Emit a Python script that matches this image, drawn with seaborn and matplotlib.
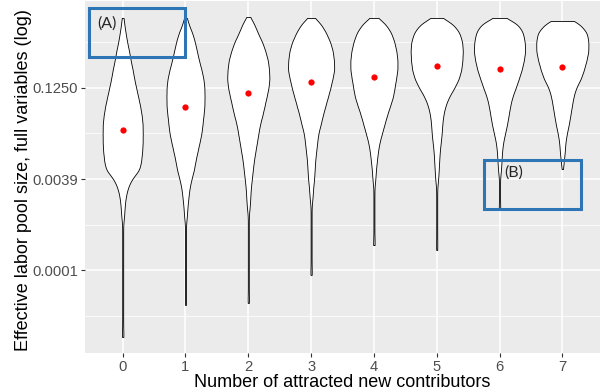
import numpy as np
import pandas as pd
import matplotlib
matplotlib.use("Agg")
import matplotlib.pyplot as plt
from matplotlib.patches import Rectangle
from matplotlib.ticker import FixedLocator, FuncFormatter
import seaborn as sns

categories = ["0", "1", "2", "3", "4", "5", "6", "7"]

# shared bins of log2(effective labor pool size), top to bottom
log2_bins = [0.5, 0.0, -0.5, -1.0, -1.5, -2.0, -2.5, -3.0, -3.5, -4.0, -4.5, -5.0,
             -5.5, -6.0, -6.5, -7.0, -7.5, -8.0, -8.5, -9.0, -9.5, -10.0, -10.5, -11.0,
             -11.5, -12.0, -12.5, -13.0, -13.5, -14.0, -14.5, -15.0, -15.5, -16.0, -16.5]

# how many projects fall in each bin, per number of new contributors
counts_0 = [3, 6, 9, 13, 16, 20, 23, 27, 31, 35, 38, 40, 40, 40, 39, 37, 34, 18, 10, 6, 4, 3,
            1, 1, 1, 1, 1, 1, 1, 1, 1, 1, 1, 1, 1]
counts_1 = [6, 14, 19, 23, 27, 32, 36, 38, 38, 38, 36, 34, 32, 28, 24, 20, 17, 12, 8, 6, 4, 3,
            1, 1, 1, 1, 1, 1, 1, 1, 1, 0, 0, 0, 0]
counts_2 = [12, 19, 28, 34, 39, 41, 42, 40, 36, 32, 28, 23, 20, 17, 14, 11, 9, 7, 5, 4, 3,
            1, 1, 1, 1, 1, 1, 1, 1, 1, 1, 0, 0, 0, 0]
counts_3 = [20, 30, 38, 43, 45, 46, 42, 38, 33, 28, 23, 19, 14, 12, 10, 8, 7, 6, 4, 3,
            1, 1, 1, 1, 1, 1, 1, 1, 0, 0, 0, 0, 0, 0, 0]
counts_4 = [24, 35, 41, 45, 47, 47, 44, 41, 38, 32, 26, 21, 16, 11, 8, 6, 4, 3,
            1, 1, 1, 1, 1, 1, 1, 0, 0, 0, 0, 0, 0, 0, 0, 0, 0]
counts_5 = [34, 46, 51, 52, 51, 49, 44, 35, 24, 17, 13, 11, 10, 8, 6, 5, 4, 3,
            1, 1, 1, 1, 1, 1, 1, 0, 0, 0, 0, 0, 0, 0, 0, 0, 0]
counts_6 = [38, 47, 50, 51, 48, 44, 38, 32, 25, 21, 18, 15, 11, 7, 5, 4, 3,
            1, 1, 1, 1, 0, 0, 0, 0, 0, 0, 0, 0, 0, 0, 0, 0, 0, 0]
counts_7 = [36, 50, 52, 52, 48, 43, 37, 27, 22, 19, 16, 13, 9, 6, 5, 3,
            0, 0, 0, 0, 0, 0, 0, 0, 0, 0, 0, 0, 0, 0, 0, 0, 0, 0, 0]

# extremes and means per group (log2 of pool size)
pool_top_log2 = [0.85, 0.85, 0.90, 0.85, 0.85, 0.85, 0.85, 0.68]
pool_bottom_log2 = [-16.68, -14.92, -14.81, -13.27, -11.63, -11.90, -9.70, -7.45]
pool_mean_log2 = [-5.31, -4.04, -3.27, -2.67, -2.40, -1.79, -1.96, -1.85]

all_counts = [counts_0, counts_1, counts_2, counts_3, counts_4, counts_5, counts_6, counts_7]


def fixed_bw(kde):
    # same kernel width (0.3 log2 units) for every group
    return 0.3 / np.std(kde.dataset)


sns.set_theme(style="darkgrid")
plt.rcParams["font.family"] = ["Liberation Sans", "DejaVu Sans"]

fig, ax = plt.subplots(figsize=(6.1, 3.92), dpi=100)
fig.subplots_adjust(left=85 / 610, right=600 / 610, top=1 - 1 / 392, bottom=1 - 353 / 392)
ax.set_facecolor("#EBEBEB")

# one violin per group, widths scaled by the group's peak count (area-like scaling)
peak = max(max(c) for c in all_counts)
for cat, counts, top, bottom in zip(categories, all_counts, pool_top_log2, pool_bottom_log2):
    vals = np.concatenate([[top], np.repeat(log2_bins, counts), [bottom]])
    grp = pd.DataFrame({"contributors": cat, "log2_pool": vals})
    sns.violinplot(data=grp, x="contributors", y="log2_pool", order=categories,
                   color="white", saturation=1, linecolor="black", linewidth=0.6,
                   inner=None, cut=0, bw_method=fixed_bw, density_norm="width",
                   width=0.83 * max(counts) / peak, gridsize=400, ax=ax)

sns.stripplot(x=categories, y=pool_mean_log2, order=categories,
              jitter=False, color="red", size=4.5, linewidth=0, zorder=4, ax=ax)

# ggplot-like limits: 5% padding on the log range, 0.6 on the discrete axis
lo, hi = min(pool_bottom_log2), max(pool_top_log2)
pad = 0.05 * (hi - lo)
ax.set_ylim(lo - pad, hi + pad)
ax.set_xlim(-0.6, len(categories) - 0.4)

ax.yaxis.set_major_locator(FixedLocator([-13, -8, -3]))
ax.yaxis.set_major_formatter(FuncFormatter(lambda v, _: f"{2.0 ** v:.4f}"))
ax.yaxis.set_minor_locator(FixedLocator([-15.5, -10.5, -5.5, -0.5]))

ax.grid(True, which="major", color="white", linewidth=1.1)
ax.grid(True, which="minor", axis="y", color="white", linewidth=0.55)
ax.xaxis.grid(True, which="major", color="white", linewidth=1.1)
ax.set_axisbelow(True)
for s in ax.spines.values():
    s.set_visible(False)

ax.tick_params(axis="both", which="major", length=3, width=0.8, color="#333333",
               labelcolor="#4D4D4D", labelsize=10.6, pad=2,
               bottom=True, left=True)
ax.tick_params(axis="both", which="minor", length=0)

ax.set_xlabel("Number of attracted new contributors", fontsize=13, color="black", labelpad=0)
ax.set_ylabel("Effective labor pool size, full variables (log)", fontsize=13, color="black")
ax.yaxis.set_label_coords(-0.103, 0.49)

# highlight boxes
box_color = "#2E75B6"
ax.add_patch(Rectangle((-0.54, -1.30), 1.54, 2.70, fill=False, edgecolor=box_color,
                       linewidth=2.2, zorder=5, clip_on=False))
ax.add_patch(Rectangle((5.75, -9.65), 1.54, 2.69, fill=False, edgecolor=box_color,
                       linewidth=2.2, zorder=5, clip_on=False))
ax.text(-0.40, 0.52, "(A)", fontsize=11.5, family=["Lato", "DejaVu Sans"],
        ha="left", va="center", zorder=6)
ax.text(6.08, -7.67, "(B)", fontsize=11.5, family=["Lato", "DejaVu Sans"],
        ha="left", va="center", zorder=6)

fig.savefig("out.png", dpi=100)
